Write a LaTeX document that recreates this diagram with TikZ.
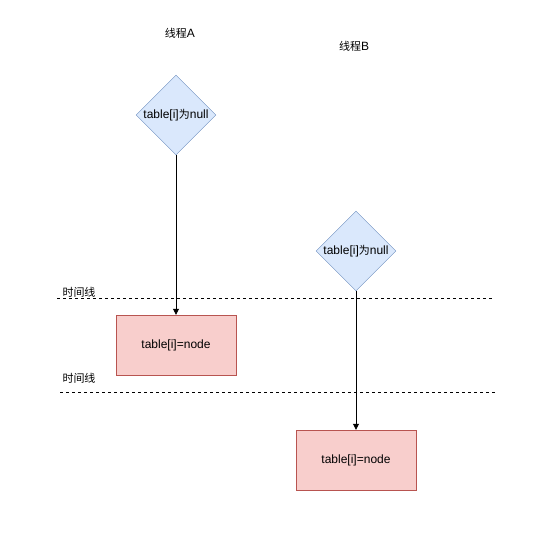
\documentclass[tikz,border=0pt]{standalone}
\usepackage{fontspec}
\setmainfont{Liberation Sans}
\newfontfamily\cjk{Noto Sans CJK SC}
\usetikzlibrary{shapes.geometric,arrows.meta}
\definecolor{bluefill}{HTML}{DAE8FC}
\definecolor{bluedraw}{HTML}{6C8EBF}
\definecolor{redfill}{HTML}{F8CECC}
\definecolor{reddraw}{HTML}{B85450}
\begin{document}
\begin{tikzpicture}[x=1pt,y=-1pt,
  decision/.style={diamond,draw=bluedraw,fill=bluefill,minimum width=80pt,minimum height=80pt,inner sep=0pt,aspect=1,font=\fontsize{12}{14}\selectfont},
  process/.style={rectangle,draw=reddraw,fill=redfill,minimum width=120pt,minimum height=60pt,inner sep=0pt,font=\fontsize{12}{14}\selectfont},
  lbl/.style={font=\fontsize{12}{14}\selectfont,inner sep=0pt},
  timeline/.style={dashed,line width=0.8pt},
  flow/.style={-{Triangle[length=6pt,width=6pt]},line width=0.8pt}]
\useasboundingbox (0,0) rectangle (555,538);
\node[decision] (dA) at (176,115) {table[i]{\cjk\fontsize{11}{14}\selectfont 为}null};
\node[decision] (dB) at (356,251) {table[i]{\cjk\fontsize{11}{14}\selectfont 为}null};
\node[process] (pA) at (176,345) {table[i]=node};
\node[process] (pB) at (356,460) {table[i]=node};
\node[lbl] (tA) at (180,33) {{\cjk\fontsize{11}{14}\selectfont 线程}A};
\node[lbl] (tB) at (354,46) {{\cjk\fontsize{11}{14}\selectfont 线程}B};
\node[lbl] (l1) at (79,292) {\cjk\fontsize{11}{14}\selectfont 时间线};
\node[lbl] (l2) at (79,378) {\cjk\fontsize{11}{14}\selectfont 时间线};
\coordinate (s1) at (57,298);
\coordinate (e1) at (493,298);
\coordinate (s2) at (60,392);
\coordinate (e2) at (495,392);
\draw[timeline] (s1) -- (e1);
\draw[timeline] (s2) -- (e2);
\draw[flow] (dA.south) -- (pA.north);
\draw[flow] (dB.south) -- (pB.north);
\end{tikzpicture}
\end{document}
